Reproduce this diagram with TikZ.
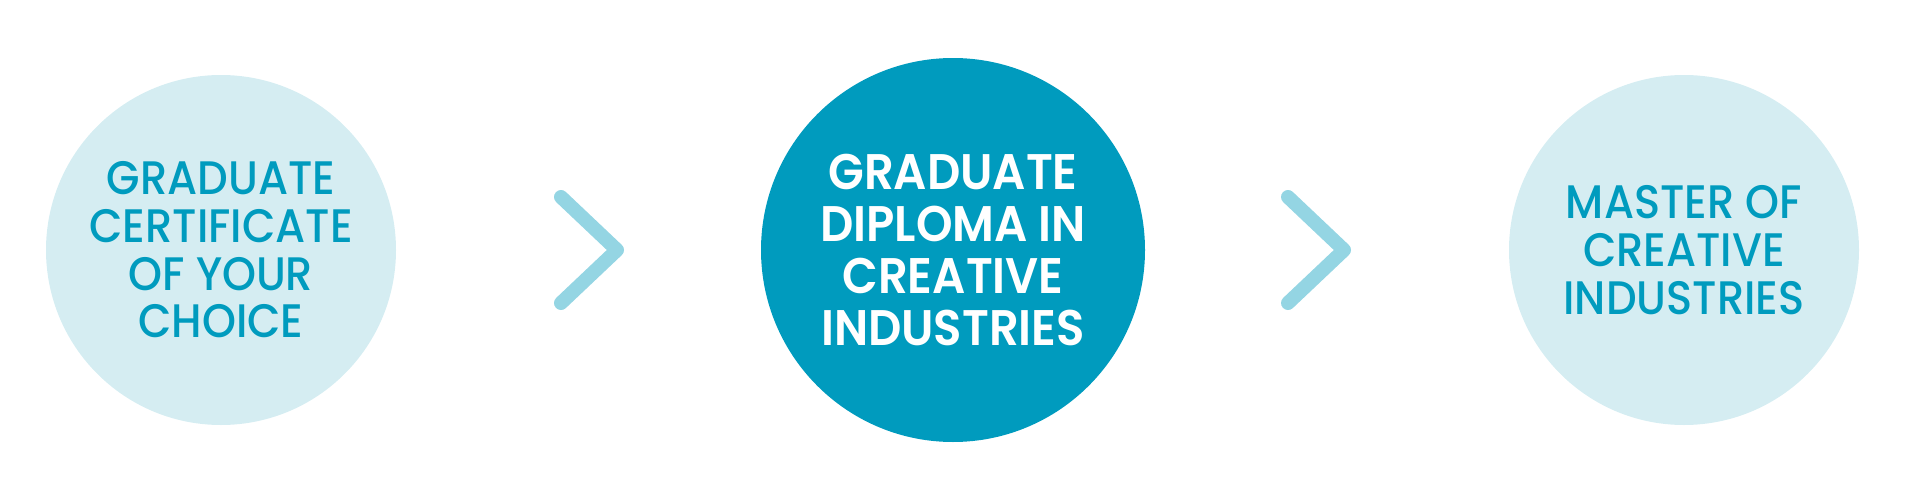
\documentclass[tikz,border=0pt]{standalone}
\usepackage{fontspec}
\setmainfont{Poppins}
\newfontfamily\stagefont[FakeStretch=0.92]{Poppins Medium}
\newfontfamily\mainstagefont[FakeStretch=0.93]{Poppins SemiBold}
\usetikzlibrary{positioning}
\definecolor{palecyan}{RGB}{213,237,242}
\definecolor{deepcyan}{RGB}{0,155,190}
\definecolor{chevcyan}{RGB}{148,213,227}
\begin{document}
\begin{tikzpicture}[x=1pt,y=-1pt,
  stage/.style={circle,fill=palecyan,draw=none,inner sep=0pt,minimum size=350pt,
    text=deepcyan,align=center,font=\stagefont\fontsize{47}{47.7}\selectfont},
  mainstage/.style={stage,fill=deepcyan,minimum size=384pt,text=white,
    font=\mainstagefont\fontsize{50}{51.7}\selectfont},
  chevron/.style={draw=chevcyan,line width=14pt,line cap=round,line join=round}]
\useasboundingbox (0,0) rectangle (1920,498);

% stages
\node[stage] (cert) at (221,250) {GRADUATE\\CERTIFICATE\\OF YOUR\\CHOICE};
\node[mainstage] (diploma) at (953,250) {GRADUATE\\DIPLOMA IN\\CREATIVE\\INDUSTRIES};
\node[stage] (master) at (1684,250) {MASTER OF\\CREATIVE\\INDUSTRIES};

% chevrons
\coordinate (tip1) at (617,250);
\coordinate (tip2) at (1344,250);
\draw[chevron] ([shift={(-56,-53)}]tip1) -- (tip1) -- ([shift={(-56,53)}]tip1);
\draw[chevron] ([shift={(-56,-53)}]tip2) -- (tip2) -- ([shift={(-56,53)}]tip2);
\end{tikzpicture}
\end{document}
